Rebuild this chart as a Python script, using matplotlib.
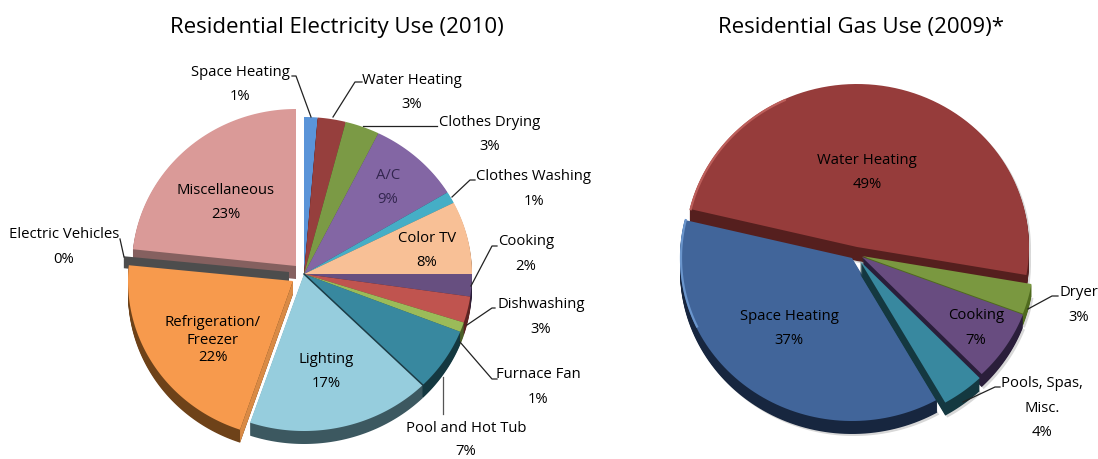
import numpy as np
from matplotlib import pyplot as plt

plt.rcParams['font.family'] = ['Open Sans', 'DejaVu Sans']

W, H = 1098, 460

# left pie, clockwise from 12 o'clock
elec_labels = ['Space Heating', 'Water Heating', 'Clothes Drying', 'A/C', 'Clothes Washing',
               'Color TV', 'Cooking', 'Dishwashing', 'Furnace Fan', 'Pool and Hot Tub',
               'Lighting', 'Refrigeration/\nFreezer', 'Electric Vehicles', 'Miscellaneous']
elec_pct = ['1%', '3%', '3%', '9%', '1%', '8%', '2%', '3%', '1%', '7%', '17%', '22%', '0%', '23%']
elec_values = [1.3, 2.7, 3.3, 9, 1.2, 7.5, 2.3, 2.7, 1, 6.5, 17.7, 21.4, 0.1, 23.3]
elec_colors = ['#5a94d8', '#963f3d', '#7b9a45', '#8366a4', '#45aec6', '#f8c096', '#674f80',
               '#c0544f', '#9bbb59', '#38889f', '#96cddd', '#f79a4d', '#4d4d4d', '#da9a98']
elec_side = ['#2d5a90', '#5c2322', '#4c5f29', '#41305a', '#1f6270', '#8a6a50', '#2a1e3a',
             '#5c2322', '#4c5f29', '#143840', '#3c5860', '#6e4219', '#4d4d4d', '#85605f']

# right pie
gas_labels = ['Water Heating', 'Dryer', 'Cooking', 'Pools, Spas,\nMisc.', 'Space Heating']
gas_pct = ['49%', '3%', '7%', '4%', '37%']
gas_values = [49, 3, 7, 4, 37]
gas_colors = ['#963c3b', '#7a9840', '#684c80', '#38889f', '#41659a']
gas_side = ['#551f1e', '#4f6a1e', '#2a1e3a', '#143840', '#17263f']


def wedge(cx, cy, rx, ry, a, b):
    t = np.radians(np.linspace(a, b, 80))
    return np.r_[cx, cx + rx * np.cos(t)], np.r_[cy, cy - ry * np.sin(t)]


def spans(values, start):
    total = float(sum(values))
    ends = start - 360.0 * np.cumsum(values) / total
    return np.r_[start, ends[:-1]], ends


def draw_wedge(ax, cx, cy, rx, ry, a, b, color, side, depth):
    for k in range(depth, 0, -1):
        x, y = wedge(cx, cy + k, rx, ry, a, b)
        ax.fill(x, y, color=side, lw=0)
    x, y = wedge(cx, cy, rx, ry, a, b)
    ax.fill(x, y, color=color, lw=0)


fig = plt.figure(figsize=(W / 100, H / 100), dpi=100)
ax = fig.add_axes([0, 0, 1, 1])
ax.set_xlim(0, W)
ax.set_ylim(H, 0)
ax.axis('off')

# electricity pie
RX, RY = 168, 157
starts, ends = spans(elec_values, 90)
shift = {11: (-11, 7), 13: (-8, -8)}
for i in [0, 1, 2, 3, 4, 5, 6, 7, 8, 9, 10, 13]:
    dx, dy = shift.get(i, (0, 0))
    rx = 164 if i == 13 else RX
    draw_wedge(ax, 304 + dx, 275 + dy, rx, RY, starts[i], ends[i], elec_colors[i], elec_side[i], 13)

# the 0% slice only shows as a dark band
x, y = wedge(289, 273, 166, RY, starts[12], starts[12])
ax.fill([x[0], x[1], x[1], x[0]], [y[0], y[1], y[1] + 12, y[0] + 12], color=elec_colors[12], lw=0)

draw_wedge(ax, 293, 282, 165, RY, starts[11], ends[11], elec_colors[11], elec_side[11], 13)

# thin dark seam between pool and lighting
x, y = wedge(304, 275, RX, RY, ends[9], ends[9])
ax.plot(x, y, color='#1c3c46', lw=1.1)

# refrigeration cut face, lighter than its rim
x, y = wedge(293, 282, 165, RY, starts[11], starts[11])
ax.fill([x[0], x[1], x[1], x[0]], [y[0], y[1], y[1] + 13, y[0] + 13], color='#d98a45', lw=0)

# gas pie
RX2, RY2 = 172, 163
gstarts, gends = spans(gas_values, 166.5)
gshift = [(0, -8), (5, 1), (5, 2), (3, 6), (-5, 3)]
gdepth = [14, 12, 13, 13, 13]

# soft halo behind the pie
for i in [0, 1, 2, 3, 4]:
    dx, dy = gshift[i]
    x, y = wedge(857 + dx + 2, 256 + dy + gdepth[i] + 2, RX2, RY2, gstarts[i], gends[i])
    ax.fill(x, y, color='#d8d8d8', lw=0)
x, y = wedge(859, 250, RX2, RY2, gstarts[0], gends[0])
ax.fill(x, y, color='#d8d8d8', lw=0)

for i in [0, 1, 2, 4, 3]:
    dx, dy = gshift[i]
    draw_wedge(ax, 857 + dx, 256 + dy, RX2, RY2, gstarts[i], gends[i], gas_colors[i], gas_side[i], gdepth[i])

# lighter bevel on the left rims
t = np.radians(np.linspace(gstarts[0], 115, 60))
ax.plot(857 + (RX2 - 1) * np.cos(t), 248 - (RY2 - 1) * np.sin(t), color='#bd5f5b', lw=1.6)
t = np.radians(np.linspace(gstarts[0], 205, 60))
ax.plot(852 + (RX2 - 1) * np.cos(t), 259 - (RY2 - 1) * np.sin(t), color='#6a95cc', lw=1.6)


def txt(x, y, s, size=10.7, color='black'):
    ax.text(x, y, s, fontsize=size, ha='center', va='center', color=color)


def line(xs, ys, color='#222222'):
    ax.plot(xs, ys, color=color, lw=0.9)


txt(337, 27, 'Residential Electricity Use (2010)', 16)
txt(861, 27, 'Residential Gas Use (2009)*', 16)

# label centres, name line then percent line
elec_spots = [(240, 72, 97), (412, 80, 104), (490, 122, 147), (388, 176, 200), (534, 177, 202),
              (427, 239, 263), (526, 242, 267), (541, 305, 330), (538, 375, 400), (466, 429, 452),
              (326, 360, 384), None, (64, 235, 260), (226, 191, 215)]
for i, spot in enumerate(elec_spots):
    if spot is None:
        continue
    x, y1, y2 = spot
    col = '#33264f' if elec_labels[i] == 'A/C' else 'black'
    txt(x, y1, elec_labels[i], color=col)
    txt(x, y2, elec_pct[i], color=col)
name1, name2 = elec_labels[11].split('\n')
txt(213, 323, name1)
txt(213, 341, name2)
txt(213, 358, elec_pct[11])

txt(867, 161, gas_labels[0])
txt(867, 185, gas_pct[0])
txt(1079, 293, gas_labels[1])
txt(1079, 318, gas_pct[1])
txt(976, 316, gas_labels[2])
txt(976, 341, gas_pct[2])
name1, name2 = gas_labels[3].split('\n')
txt(1042, 384, name1)
txt(1042, 409, name2)
txt(1042, 433, gas_pct[3])
txt(789, 317, gas_labels[4])
txt(789, 341, gas_pct[4])

# leader lines
line([292, 296, 311], [77, 77, 118])
line([362, 355, 333], [83, 83, 118])
line([437, 363], [127, 127])
line([475, 470, 452], [181, 181, 198])
line([497, 492, 471], [247, 247, 287])
line([495, 492, 467], [309, 309, 326])
line([497, 492, 460], [380, 380, 343])
line([443, 443], [415, 378], color='#555555')
line([120, 124], [240, 258])
line([1058, 1052, 1028], [297, 297, 310])
line([1000, 995, 963], [388, 388, 403])

fig.savefig('out.png', dpi=100)
